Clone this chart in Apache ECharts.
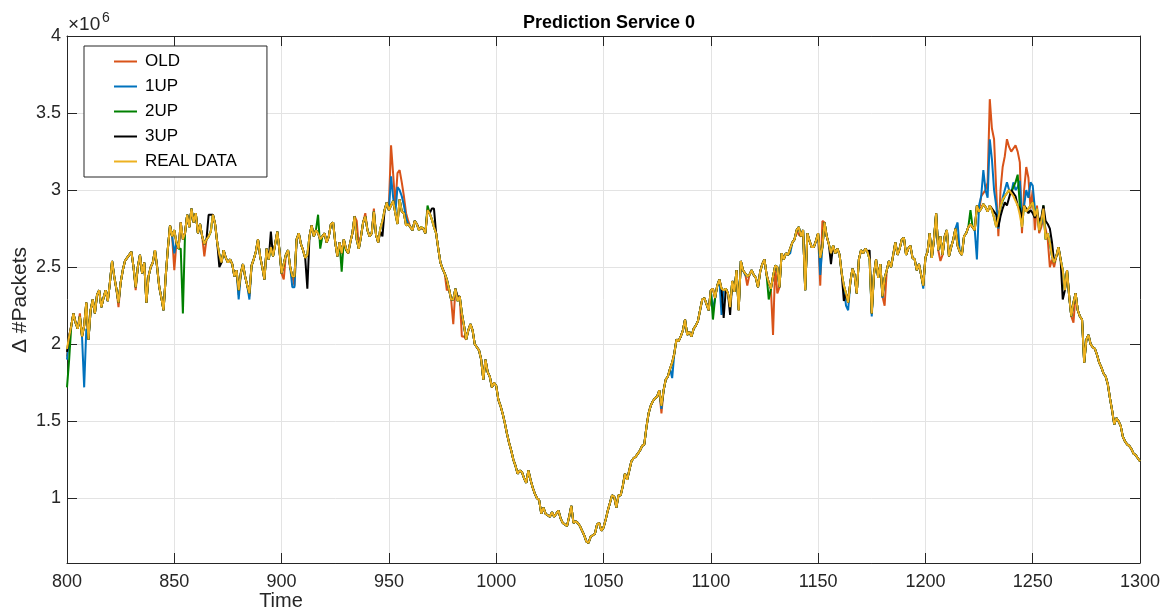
<!DOCTYPE html>
<html>
<head>
<meta charset="utf-8">
<script src="https://cdn.jsdelivr.net/npm/echarts@6/dist/echarts.min.js"></script>
<style>
html,body{margin:0;padding:0;background:#fff;}
#chart{width:1167px;height:612px;}
</style>
</head>
<body>
<div id="chart"></div>
<script>
// Values are in units of 10^4 packets (e.g. 245 = 2.45 x 10^6). Time runs 800..1300, one value per step.
const T_START = 800;
const SERIES_NAMES = ['OLD', '1UP', '2UP', '3UP', 'REAL DATA'];
const X_TICKS = [800, 850, 900, 950, 1000, 1050, 1100, 1150, 1200, 1250, 1300];
const Y_TICKS = [1, 1.5, 2, 2.5, 3, 3.5, 4];

const REAL = [
197,205,212,220,214,210,218,205,212,227,
203,222,229,220,232,235,224,230,235,228,
240,254,244,236,227,240,248,254,256,258,
260,250,237,250,258,246,253,227,244,250,
253,261,250,237,230,222,244,262,277,270,
274,266,262,279,268,272,284,276,288,279,
285,272,278,270,265,268,270,273,284,278,
266,258,253,261,256,253,255,252,244,248,
235,246,252,244,238,233,251,255,260,268,
257,250,242,262,255,263,257,265,273,261,
246,252,258,261,250,244,244,268,272,265,
261,256,258,270,277,270,274,272,268,270,
272,266,270,278,279,266,257,266,259,268,
262,259,266,272,283,268,262,270,279,283,
274,270,272,286,271,266,275,280,287,292,
287,290,293,285,278,294,286,285,277,278,
276,274,280,278,274,276,275,272,287,285,
281,276,272,262,253,249,246,242,236,229,
229,236,228,231,220,212,203,209,213,209,
200,198,196,190,177,190,182,179,172,175,
173,164,160,155,149,142,136,131,125,121,
116,118,117,113,110,118,112,107,103,100,
99,90,94,90,89,88,91,88,90,92,
87,84,83,82,88,95,84,85,84,82,
79,76,72,71,75,76,77,83,84,79,
81,86,92,97,102,101,94,102,102,108,
116,112,118,124,126,127,129,131,134,135,
146,155,160,163,165,166,170,160,170,177,
179,184,188,194,203,202,205,209,216,206,
208,205,210,212,215,222,229,230,226,222,
235,236,230,238,242,236,235,236,233,224,
241,234,248,222,254,248,246,244,245,248,
245,243,237,247,252,255,245,240,236,244,
251,250,237,259,255,259,258,262,266,268,
274,276,270,274,235,272,267,263,263,267,
272,256,263,279,270,265,259,264,259,262,
258,246,238,233,227,240,249,245,233,255,
261,259,262,260,255,220,245,255,243,252,
231,243,248,254,250,258,266,258,262,268,
269,258,262,264,256,255,248,252,245,238,
256,260,272,256,268,285,261,270,258,270,
274,257,263,268,275,264,260,258,270,272,
276,278,276,274,290,286,288,291,289,286,
290,287,282,276,282,289,294,296,298,300,
298,296,293,290,284,276,290,286,288,290,
292,283,288,274,280,288,268,272,266,257,
253,257,263,255,248,235,248,231,218,227,
233,222,218,216,188,203,206,200,198,197,
193,188,185,181,179,174,165,157,148,152,
150,147,140,137,135,134,132,129,128,126,
124
];

const OLD = [
192,205,212,220,214,210,220,205,212,227,
203,222,229,220,232,235,224,230,235,228,
240,254,244,236,224,240,248,254,256,258,
260,250,235,250,258,246,253,227,244,250,
253,261,250,237,230,222,244,262,277,270,
248,266,262,279,268,272,284,276,288,279,
285,272,278,270,257,268,270,273,284,278,
266,258,253,261,256,253,255,252,244,248,
232,246,252,244,238,231,251,255,260,268,
257,250,242,262,255,263,257,265,273,261,
246,242,258,261,250,244,238,268,272,265,
261,256,258,270,277,270,274,272,268,270,
272,266,270,278,279,266,257,266,259,268,
262,259,266,272,283,280,262,270,279,285,
274,270,272,288,271,266,275,280,287,292,
290,329,310,290,311,313,305,296,285,280,
276,274,280,278,274,276,275,272,287,285,
281,276,272,262,253,249,246,235,236,229,
213,236,228,231,205,205,203,209,213,209,
200,198,196,190,177,190,182,179,172,175,
173,164,160,155,149,142,136,131,125,121,
116,118,117,113,110,118,112,107,103,100,
99,90,94,90,89,88,91,88,90,92,
87,84,83,82,88,95,84,85,84,82,
79,76,72,71,75,76,77,83,84,79,
81,86,92,97,102,101,94,102,102,108,
116,112,118,124,126,127,129,131,134,135,
146,155,160,163,165,166,170,155,170,177,
179,184,188,194,203,202,205,209,216,206,
208,205,210,212,215,222,229,230,226,222,
235,236,230,238,242,236,235,236,233,224,
241,234,248,222,254,248,246,238,245,248,
245,243,237,247,252,255,245,240,236,206,
251,233,237,259,255,259,258,262,266,268,
274,271,270,274,235,272,267,263,263,267,
272,238,280,279,270,265,259,264,259,262,
258,246,238,233,227,240,249,245,233,255,
261,259,262,260,255,220,245,255,243,252,
231,225,248,254,250,258,266,258,262,268,
269,258,262,264,256,255,248,252,245,238,
256,260,272,256,268,285,261,254,258,270,
274,257,263,268,275,264,260,258,270,272,
276,278,276,274,290,286,296,298,300,305,
359,340,333,300,270,300,315,322,333,328,
325,327,329,325,318,272,300,315,308,288,
300,274,290,272,276,282,275,268,250,255,
250,257,263,255,248,235,248,231,218,214,
233,222,218,216,188,203,206,200,198,197,
193,188,185,181,179,174,165,157,148,152,
150,147,140,137,135,134,132,129,128,126,
124
];

const UP1 = [
190,205,212,220,214,210,218,205,172,210,
203,222,229,220,232,235,224,230,235,228,
240,254,244,236,227,240,248,254,256,258,
260,250,237,250,258,246,253,227,244,250,
253,261,250,237,230,222,244,262,277,270,
259,266,262,279,268,272,284,276,288,279,
285,272,278,270,265,268,270,273,284,278,
266,258,253,261,256,253,255,252,244,248,
229,246,252,244,238,229,251,255,260,268,
257,250,242,262,255,263,257,265,273,261,
246,252,258,261,250,237,237,268,272,265,
261,256,258,270,277,270,274,272,268,270,
272,266,270,278,279,266,257,266,259,268,
262,259,266,272,283,268,262,270,279,283,
274,270,272,286,271,266,275,280,287,292,
287,309,295,285,302,300,296,290,282,278,
276,274,280,278,274,276,275,272,287,285,
281,276,272,262,253,249,246,242,236,229,
229,236,228,231,220,212,203,209,213,209,
200,198,196,190,177,190,182,179,172,175,
173,164,160,155,149,142,136,131,125,121,
116,118,117,113,110,118,112,107,103,100,
99,90,94,90,89,88,91,88,90,92,
87,84,83,82,88,95,84,85,84,82,
79,76,72,71,75,76,77,83,84,79,
81,86,92,97,102,101,94,102,102,108,
116,112,118,124,126,127,129,131,134,135,
146,155,160,163,165,166,170,158,170,177,
179,184,178,194,203,202,205,209,216,206,
208,205,210,212,215,222,229,230,226,222,
235,222,230,238,242,219,235,236,233,224,
241,234,248,224,254,248,245,244,245,248,
245,243,237,247,252,255,245,240,236,244,
251,250,237,259,255,259,258,259,266,268,
274,276,270,274,235,272,267,263,263,267,
272,245,263,279,270,265,259,264,259,262,
258,246,238,225,222,240,249,245,233,255,
261,259,262,260,255,218,245,255,243,252,
230,243,248,254,250,258,266,258,262,268,
269,258,262,264,256,255,248,252,245,236,
256,260,272,256,268,285,261,270,258,270,
274,257,263,268,275,279,260,258,270,272,
276,278,276,274,255,290,296,313,300,295,
333,320,300,290,275,288,295,300,305,300,
298,305,300,302,306,280,290,300,295,305,
303,288,285,280,278,288,268,272,266,257,
253,257,263,255,248,235,248,231,218,227,
233,222,218,216,188,203,206,200,198,197,
193,188,185,181,179,174,165,157,148,152,
150,147,140,137,135,134,132,129,128,126,
124
];

const UP2 = [
172,190,212,220,214,210,218,205,212,227,
203,222,229,220,232,235,224,230,235,228,
240,254,244,236,227,240,248,254,256,258,
260,250,237,250,258,246,253,227,244,250,
253,261,250,237,230,222,244,262,277,270,
274,266,262,262,220,272,284,276,288,279,
285,272,278,270,265,268,270,273,284,278,
266,258,253,261,256,253,255,252,244,248,
235,246,252,244,238,233,251,255,260,268,
257,250,242,262,255,263,257,265,273,261,
246,252,258,261,250,244,244,268,272,265,
261,256,258,270,277,270,274,284,262,270,
272,266,270,278,279,266,257,266,247,268,
261,259,266,272,283,268,262,270,279,283,
274,270,272,286,271,266,275,280,287,292,
287,290,293,285,278,294,286,285,277,278,
276,274,280,278,274,276,275,272,290,285,
281,276,272,262,253,249,246,242,236,229,
229,236,228,231,220,212,203,209,213,209,
200,198,196,190,177,190,182,179,172,175,
173,164,160,155,149,142,136,131,125,121,
116,118,117,113,110,118,112,107,103,100,
99,90,94,90,89,88,91,88,90,92,
87,84,83,82,88,95,84,85,84,82,
79,76,72,71,75,76,77,83,84,79,
81,86,92,97,102,101,94,102,102,108,
116,112,118,124,126,127,129,131,134,135,
146,155,160,163,165,166,170,160,170,177,
179,184,188,194,203,202,205,209,216,206,
208,205,210,212,215,222,229,230,226,222,
235,216,230,238,242,236,235,236,233,224,
241,234,248,222,254,248,246,244,245,248,
245,243,237,247,252,255,245,229,236,244,
251,250,237,259,255,259,258,262,266,268,
274,276,270,274,235,272,267,263,263,267,
272,256,263,279,270,265,259,264,259,262,
258,246,238,233,227,240,249,245,233,255,
261,259,262,260,255,220,245,255,243,252,
231,243,248,254,250,258,266,258,262,268,
269,258,262,264,256,255,248,252,245,238,
256,260,272,256,268,285,261,270,258,270,
274,257,263,268,275,264,260,258,270,272,
276,287,276,274,290,286,288,291,289,286,
290,287,282,276,282,289,293,296,298,300,
298,302,305,310,290,276,290,286,288,290,
292,283,288,274,280,290,268,272,266,257,
253,257,263,255,248,235,248,231,218,227,
233,222,218,216,188,203,206,200,198,197,
193,188,185,181,179,174,165,157,148,152,
150,147,140,137,135,134,132,129,128,126,
124
];

const UP3 = [
195,205,212,220,214,210,218,205,212,227,
203,222,229,220,232,235,224,230,235,228,
240,254,244,236,227,240,248,254,256,258,
260,250,237,250,258,246,253,227,244,250,
253,261,250,237,230,222,244,262,277,270,
274,266,262,279,268,272,284,276,288,279,
285,272,278,270,265,268,284,284,284,278,
266,250,253,261,256,253,255,252,244,248,
235,246,252,244,238,233,251,255,260,268,
257,250,242,262,255,273,257,265,273,261,
246,252,258,261,250,244,244,268,272,265,
261,256,236,270,277,270,274,272,268,270,
272,266,270,278,279,266,257,266,259,268,
262,259,266,272,283,268,262,270,279,283,
274,270,272,286,271,266,273,270,287,292,
287,290,293,285,278,294,286,285,277,278,
276,274,280,278,275,275,275,272,287,285,
288,288,272,262,253,249,246,242,236,229,
229,236,231,231,220,212,203,209,213,209,
200,198,196,190,177,190,182,179,172,175,
173,164,160,155,149,142,136,131,125,121,
116,118,117,113,110,118,112,107,103,100,
99,90,94,90,89,88,91,88,90,92,
87,84,83,82,88,95,84,85,84,82,
79,76,72,71,75,76,77,83,84,79,
81,86,92,97,102,101,94,102,102,108,
116,112,118,124,126,127,129,131,134,135,
146,155,160,163,165,166,170,160,170,177,
179,184,188,194,203,202,205,209,216,206,
208,205,210,212,215,222,229,230,226,222,
235,236,230,238,242,236,217,236,233,219,
241,234,248,222,254,248,246,244,245,248,
245,243,237,247,252,255,245,240,236,244,
251,250,237,259,255,259,258,262,266,268,
274,276,270,274,235,272,267,263,263,267,
272,256,263,279,270,265,252,264,259,262,
258,246,228,233,227,240,249,245,233,255,
261,259,262,260,261,220,245,255,243,252,
231,243,248,254,250,258,266,258,262,268,
269,258,262,264,256,255,248,252,245,238,
256,260,272,256,268,285,261,270,258,270,
274,257,263,268,275,264,260,258,270,272,
276,278,276,274,290,286,288,291,289,286,
290,288,286,284,276,283,288,292,290,295,
300,298,296,290,288,282,290,288,285,287,
285,282,286,280,282,290,280,278,275,266,
253,257,263,255,229,235,248,231,218,227,
233,222,218,216,188,203,206,200,198,197,
193,188,185,181,179,174,165,157,148,152,
150,147,140,137,135,134,132,129,128,126,
124
];

const COLORS = ['#D95319', '#0072BD', '#008000', '#000000', '#EDB120'];
const FONT = "'Liberation Sans', Arial, Helvetica, sans-serif";
const AXIS_COLOR = '#262626';
const GRID_COLOR = '#e3e3e3';

function toPoints(arr) {
  // convert 10^4 units to the axis unit (10^6)
  return arr.map((v, i) => [T_START + i, v / 100]);
}

const chart = echarts.init(document.getElementById('chart'), null, {renderer: 'canvas'});
const dataSets = [OLD, UP1, UP2, UP3, REAL];

const option = {
  animation: false,
  backgroundColor: '#ffffff',
  textStyle: {fontFamily: FONT},
  title: {
    text: 'Prediction Service 0',
    left: 604, top: 9, textAlign: 'center',
    textStyle: {fontFamily: FONT, fontSize: 18, fontWeight: 'bold', color: '#000'}
  },
  grid: {left: 67, right: 27, top: 36, bottom: 49, show: false},
  legend: {
    data: SERIES_NAMES,
    orient: 'vertical',
    left: 84, top: 46,
    padding: [7, 30, 7, 30],
    itemGap: 8,
    itemWidth: 23,
    itemHeight: 2,
    icon: 'rect',
    borderColor: '#262626',
    borderWidth: 1,
    backgroundColor: '#ffffff',
    textStyle: {fontFamily: FONT, fontSize: 17, color: '#000', lineHeight: 17, padding: [0, 0, 0, 3]},
    selectedMode: false
  },
  xAxis: [{
    type: 'value', min: X_TICKS[0], max: X_TICKS[X_TICKS.length - 1], interval: 50,
    axisLine: {show: true, onZero: false, lineStyle: {color: AXIS_COLOR, width: 1}},
    axisTick: {show: true, inside: true, length: 10, lineStyle: {color: AXIS_COLOR}},
    axisLabel: {show: true, fontFamily: FONT, fontSize: 18, color: AXIS_COLOR, margin: 10,
      formatter: v => String(v)},
    splitLine: {show: true, lineStyle: {color: GRID_COLOR, width: 1}}
  }, {
    type: 'value', min: X_TICKS[0], max: X_TICKS[X_TICKS.length - 1], interval: 50, position: 'top',
    axisLine: {show: true, onZero: false, lineStyle: {color: AXIS_COLOR, width: 1}},
    axisTick: {show: true, inside: true, length: 10, lineStyle: {color: AXIS_COLOR}},
    axisLabel: {show: false},
    splitLine: {show: false}
  }],
  yAxis: [{
    type: 'value', min: 0.58, max: 4,
    axisLine: {show: true, onZero: false, lineStyle: {color: AXIS_COLOR, width: 1}},
    axisTick: {show: true, inside: true, length: 10, lineStyle: {color: AXIS_COLOR}, customValues: Y_TICKS},
    axisLabel: {show: true, fontFamily: FONT, fontSize: 18, color: AXIS_COLOR, margin: 6, customValues: Y_TICKS,
      formatter: v => String(v)},
    splitLine: {show: true, lineStyle: {color: GRID_COLOR, width: 1}}
  }, {
    type: 'value', min: 0.58, max: 4, position: 'right',
    axisLine: {show: true, onZero: false, lineStyle: {color: AXIS_COLOR, width: 1}},
    axisTick: {show: true, inside: true, length: 10, lineStyle: {color: AXIS_COLOR}, customValues: Y_TICKS},
    axisLabel: {show: false, customValues: Y_TICKS},
    splitLine: {show: false}
  }],
  graphic: [
    {type: 'text', left: 68, top: 15, z: 100,
      style: {text: '×10', fontFamily: FONT, fontSize: 19, fill: AXIS_COLOR}},
    {type: 'text', left: 102, top: 11, z: 100,
      style: {text: '6', fontFamily: FONT, fontSize: 14, fill: AXIS_COLOR}},
    {type: 'text', x: 281, y: 601, z: 100,
      style: {text: 'Time', fontFamily: FONT, fontSize: 20, fill: AXIS_COLOR, align: 'center', verticalAlign: 'middle'}},
    {type: 'text', x: 20, y: 300, rotation: Math.PI / 2, z: 100,
      style: {text: 'Δ #Packets', fontFamily: FONT, fontSize: 21, fill: AXIS_COLOR, align: 'center', verticalAlign: 'middle'}}
  ],
  series: SERIES_NAMES.map((name, k) => ({
    name: name,
    type: 'line',
    xAxisIndex: 0, yAxisIndex: 0,
    data: toPoints(dataSets[k]),
    showSymbol: false,
    symbol: 'none',
    color: COLORS[k],
    lineStyle: {color: COLORS[k], width: 2},
    emphasis: {disabled: true},
    z: 2 + k
  }))
};
chart.setOption(option);
</script>
</body>
</html>
